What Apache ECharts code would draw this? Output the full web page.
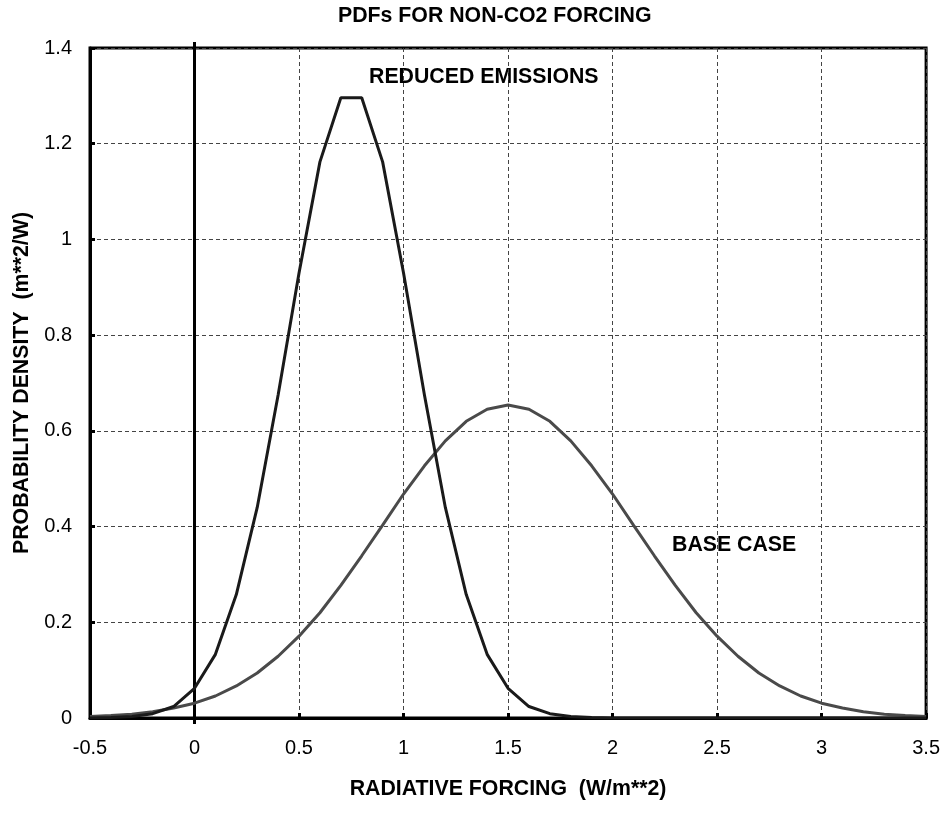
<!DOCTYPE html>
<html>
<head>
<meta charset="utf-8">
<script src="https://cdn.jsdelivr.net/npm/echarts@6/dist/echarts.min.js"></script>
<style>
  html, body { margin: 0; padding: 0; background: #fff; }
  #chart { width: 943px; height: 814px; }
</style>
</head>
<body>
<div id="chart"></div>
<script>
// ---- Data ----
const xValues = [
  -0.5, -0.4, -0.3, -0.2, -0.1, 0.0, 0.1, 0.2, 0.3, 0.4,
  0.5, 0.6, 0.7, 0.8, 0.9, 1.0, 1.1, 1.2, 1.3, 1.4,
  1.5, 1.6, 1.7, 1.8, 1.9, 2.0, 2.1, 2.2, 2.3, 2.4,
  2.5, 2.6, 2.7, 2.8, 2.9, 3.0, 3.1, 3.2, 3.3, 3.4, 3.5
];
const reducedValues = [
  0.000, 0.001, 0.003, 0.009, 0.024, 0.062, 0.133, 0.258, 0.440, 0.675,
  0.930, 1.162, 1.296, 1.296, 1.162, 0.930, 0.675, 0.440, 0.258, 0.133,
  0.062, 0.024, 0.009, 0.003, 0.001, 0.000, 0.000, 0.000, 0.000, 0.000,
  0.000, 0.000, 0.000, 0.000, 0.000, 0.000, 0.000, 0.000, 0.000, 0.000, 0.000
];
const baseValues = [
  0.003, 0.005, 0.008, 0.013, 0.021, 0.031, 0.046, 0.067, 0.094, 0.129,
  0.171, 0.220, 0.277, 0.339, 0.403, 0.468, 0.527, 0.579, 0.620, 0.645,
  0.654, 0.645, 0.620, 0.579, 0.527, 0.468, 0.403, 0.339, 0.277, 0.220,
  0.171, 0.129, 0.094, 0.067, 0.046, 0.031, 0.021, 0.013, 0.008, 0.005, 0.003
];
const chartTitle = 'PDFs FOR NON-CO2 FORCING';
const xAxisName = 'RADIATIVE FORCING  (W/m**2)';
const yAxisName = 'PROBABILITY DENSITY  (m**2/W)';
const reducedLabel = 'REDUCED EMISSIONS';
const baseLabel = 'BASE CASE';

const FONT = '"Liberation Sans", Arial, Helvetica, sans-serif';
const pair = (ys) => xValues.map((x, i) => [x, ys[i]]);

const chart = echarts.init(document.getElementById('chart'), null, { renderer: 'canvas' });
chart.setOption({
  backgroundColor: '#ffffff',
  animation: false,
  title: {
    text: chartTitle,
    left: 333,
    top: 1,
    textStyle: { fontFamily: FONT, fontSize: 21.3, fontWeight: 'bold', color: '#000' }
  },
  grid: {
    left: 90, right: 16, top: 48, bottom: 96,
    show: true, borderColor: '#000', borderWidth: 3,
    containLabel: false
  },
  xAxis: {
    type: 'value',
    min: -0.5, max: 3.5, interval: 0.5,
    name: xAxisName,
    nameLocation: 'middle',
    nameGap: 61,
    nameTextStyle: { fontFamily: FONT, fontSize: 21.3, fontWeight: 'bold', color: '#000' },
    axisLine: { show: true, onZero: false, lineStyle: { color: '#000', width: 3 } },
    axisTick: { show: true, inside: true, length: 5, lineStyle: { color: '#000', width: 3 } },
    axisLabel: { fontFamily: FONT, fontSize: 20, color: '#000', margin: 20 },
    splitLine: { show: true, lineStyle: { color: '#444', width: 1, type: [4, 3] } }
  },
  yAxis: [
    {
      type: 'value',
      min: 0, max: 1.4, interval: 0.2,
      name: yAxisName,
      nameLocation: 'middle',
      nameGap: 57,
      nameTextStyle: { fontFamily: FONT, fontSize: 21.3, fontWeight: 'bold', color: '#000' },
      axisLine: { show: true, onZero: false, lineStyle: { color: '#000', width: 3 } },
      axisTick: { show: true, inside: true, length: 5, lineStyle: { color: '#000', width: 3 } },
      axisLabel: { fontFamily: FONT, fontSize: 20, color: '#000', margin: 18 },
      splitLine: { show: true, lineStyle: { color: '#444', width: 1, type: [4, 3] } }
    },
    {
      type: 'value',
      min: 0, max: 1.4, interval: 0.2,
      position: 'left',
      axisLine: {
        show: true, onZero: true,
        lineStyle: { color: '#000', width: 3 },
        symbol: ['rect', 'rect'], symbolSize: [3, 12]
      },
      axisTick: { show: false },
      axisLabel: { show: false },
      splitLine: { show: false }
    }
  ],
  graphic: [
    {
      type: 'text', left: 369, top: 67,
      style: { text: reducedLabel, fontFamily: FONT, fontSize: 21.3, fontWeight: 'bold', fill: '#000' }
    },
    {
      type: 'text', left: 672, top: 535,
      style: { text: baseLabel, fontFamily: FONT, fontSize: 21.3, fontWeight: 'bold', fill: '#000' }
    }
  ],
  series: [
    {
      name: baseLabel, type: 'line', yAxisIndex: 0,
      data: pair(baseValues),
      showSymbol: false, smooth: false,
      lineStyle: { color: '#4a4a4a', width: 3 },
      z: 3
    },
    {
      name: reducedLabel, type: 'line', yAxisIndex: 0,
      data: pair(reducedValues),
      showSymbol: false, smooth: false,
      lineStyle: { color: '#1a1a1a', width: 3 },
      z: 4
    }
  ]
});
</script>
</body>
</html>
